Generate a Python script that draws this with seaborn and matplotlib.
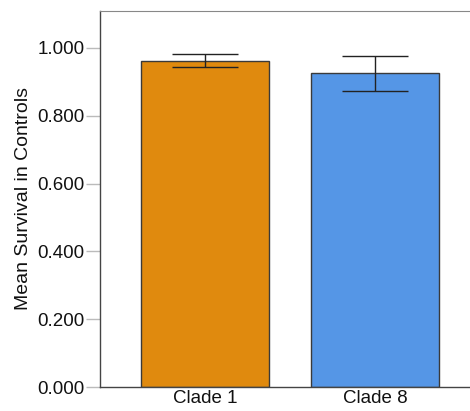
import matplotlib
matplotlib.use("Agg")
import matplotlib.pyplot as plt
import seaborn as sns
import numpy as np
import pandas as pd

categories = ["Clade 1", "Clade 8"]
means = [0.962, 0.925]
ci_low = [0.943, 0.872]
ci_high = [0.981, 0.977]
colors = ["#E08A0E", "#5596E6"]
yticks = [0.0, 0.2, 0.4, 0.6, 0.8, 1.0]

sns.set_style("white")
plt.rcParams["font.family"] = ["Liberation Sans", "DejaVu Sans"]
plt.rcParams["text.color"] = "#111111"
plt.rcParams["axes.labelcolor"] = "#111111"
plt.rcParams["xtick.labelcolor"] = "#111111"
plt.rcParams["ytick.labelcolor"] = "#111111"

fig = plt.figure(figsize=(4.70, 4.11), dpi=100)
ax = fig.add_axes([100/470, 24/411, 380/470, 376/411])

df = pd.DataFrame({"clade": categories, "mean": means})
sns.barplot(data=df, x="clade", y="mean", hue="clade", palette=colors,
            errorbar=None, width=0.75, edgecolor="#3a3a3a", linewidth=1.0,
            legend=False, ax=ax, saturation=1)

m = np.array(means)
yerr = np.vstack([m - np.array(ci_low), np.array(ci_high) - m])
ax.errorbar(range(len(categories)), m, yerr=yerr, fmt="none",
            ecolor="#222222", elinewidth=1.0, capsize=24, capthick=1.0)

ax.set_ylim(0, 1.109)
ax.set_xlim(-0.615, 1.615)
ax.set_yticks(yticks)
ax.set_yticklabels([f"{v:.3f}" for v in yticks])
ax.set_xlabel("")
ax.set_ylabel("Mean Survival in Controls", fontsize=14, labelpad=4)
ax.tick_params(axis="y", length=10, width=1, color="#bbbbbb", labelsize=13.5, pad=1, left=True)
ax.tick_params(axis="x", length=0, labelsize=13.5, pad=2)
for s in ["left", "bottom"]:
    ax.spines[s].set_color("#444444")
    ax.spines[s].set_linewidth(1.0)
ax.spines["top"].set_color("#888888")
ax.spines["right"].set_visible(False)

fig.savefig("out.png", dpi=100)
